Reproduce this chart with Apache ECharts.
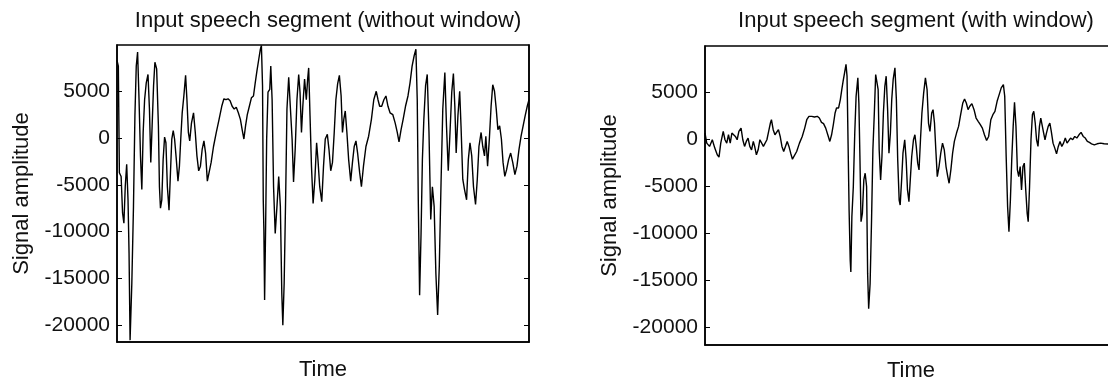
<!DOCTYPE html>
<html><head><meta charset="utf-8">
<script src="https://cdn.jsdelivr.net/npm/echarts@6/dist/echarts.min.js"></script>
<style>html,body{margin:0;padding:0;background:#fff}#c{width:1108px;height:381px}</style>
</head><body><div id="c"></div>
<script>
const titleA = 'Input speech segment (without window)';
const titleB = 'Input speech segment (with window)';
const yName = 'Signal amplitude';
const xName = 'Time';
const yTicks = [-20000, -15000, -10000, -5000, 0, 5000];

// Left panel: sample position / amplitude
const tA = [0,1.3,2.3,4,5.4,6.7,8,9.4,10.7,11.7,12.7,14.4,16,17.4,18.7,20,21.4,22.8,24.1,25.4,26.8,28.4,30.1,31.5,32.8,34.1,35.5,36.8,38.5,40.2,41.2,42.2,43.5,44.8,46.2,47.5,48.9,50.5,51.9,53.2,54.6,55.9,57.6,59.2,60.6,61.9,63.3,64.9,66.6,67.9,69.3,70.6,72.3,74.3,76,77.6,79.3,81,82.7,84.4,86,87.7,89.4,91.4,93.7,96.4,99.1,101.7,103.8,105.8,107.8,109.8,111.8,113.8,115.8,117.8,119.8,121.5,123.2,124.8,126.5,128.5,130.5,132.5,134.2,135.9,137.6,139.2,140.2,141.3,142,142.6,143.3,144.3,145.3,146.6,148.3,149.3,150.6,152,153.6,155.3,157,158.6,160,161,162.3,163.7,165,166.7,168.4,170,171.4,173,174.7,176.4,177.7,179.1,180.4,182.1,183.8,185.1,186.1,187.4,188.8,190.4,192.1,193.8,195.1,196.8,198.8,200.5,202.2,204.2,205.8,207.5,209.2,210.9,212.5,214.2,215.9,217.6,218.9,220.2,221.6,223.2,224.9,226.9,228.6,230.3,232,233.6,235.6,237.3,239.3,241.7,244.3,247,249.3,251.7,253.4,255,257,259.1,261.1,263.1,265.1,267.8,270.1,272.1,273.8,275.8,277.8,280.1,282.5,284.5,286.5,288.5,290.2,291.5,292.5,293.8,295.2,296.5,297.9,299.6,301.2,302.9,304.6,306.2,307.9,309.6,311.3,312.9,314.6,316.3,318.3,319.9,321.6,323.3,325,326.6,328,329.3,331,332.7,334,335.7,337.4,339.4,341.1,342.7,344.4,346.1,348.1,349.8,351.4,353.5,355.1,356.8,358.1,359.8,361.5,363.2,364.8,366.5,368.2,369.8,371.5,373.2,374.8,376.5,378.2,380.2,382.2,384.2,386.3,388.3,390.3,392.3,394.3,396.3,398.3,400];
const vA = [8300,7700,-3700,-4100,-8000,-9100,-5200,-2800,-6600,-12300,-21600,-15500,-7300,2400,7700,9200,4100,-1900,-5500,600,4100,5900,6800,3100,-2600,1300,5600,8100,7400,1300,-5200,-7500,-6600,-2300,100,-500,-5200,-7700,-3700,-100,800,-100,-2300,-4600,-3000,-100,2700,4500,6700,4100,600,-300,1600,2700,600,-1900,-3500,-3000,-1200,-300,-1600,-4600,-4400,-2600,-900,600,2000,3400,4200,4100,4200,4000,3400,3100,3300,2700,2000,900,-100,1300,2500,3400,4300,4500,5900,7200,8400,9500,9900,5600,-6600,-9800,-17300,-9400,-100,4900,5200,7700,4100,-5200,-10200,-7300,-4100,-7300,-16600,-20000,-15500,-6600,3100,6500,6300,-100,-4700,-1200,4100,6800,4900,600,3400,6300,4100,6300,7500,2400,-3000,-7000,-4400,-500,-2300,-5200,-6800,-3000,-100,400,-1200,-3500,-2600,600,4100,5800,6700,4500,600,2000,2900,600,-2300,-4600,-2600,-900,-300,-1600,-3700,-5200,-3000,-900,200,2000,4100,5000,4100,3400,3400,4100,4500,3400,2700,2500,1600,600,-400,900,2000,3400,4500,5900,7700,8800,9500,4100,-6600,-16800,-10200,-2300,2000,5600,6800,600,-8700,-5200,-7300,-14500,-18900,-13700,-4800,3100,7000,1300,-3500,600,4900,6900,3400,-1600,2400,5000,1300,-4400,-5500,-6600,-2300,-500,-1900,-5200,-7100,-4400,-900,600,-900,-1900,200,-3000,-100,3400,5700,5000,3100,900,1300,-100,-2600,-4100,-3400,-2300,-1600,-2600,-3900,-3000,-1200,200,1300,2400,3400,4100];

// Right panel: sample position / amplitude
const tB = [0,1.7,4.4,7.1,9.5,11.9,13.6,15.3,17.7,19.4,21.1,22.8,24.5,26.1,27.8,29.5,31.2,32.9,35,36.7,38.4,40.1,41.8,43.5,45.2,46.9,48.2,49.9,51.6,53.3,55,56.7,58.4,60.1,61.8,63.5,64.5,66.2,67.9,69.6,71.3,73,74.7,76.4,78.1,79.8,81.5,83.2,84.9,86.6,89,91.7,94.4,96.8,98.8,100.9,103.6,106.3,109,111,113.1,115.1,117.2,119.2,121.2,122.9,124.6,126.3,127.7,129.7,131.4,132.8,134.1,135.5,136.9,137.9,138.9,139.9,141,141.6,142.6,144,145.4,146.7,148.4,149.4,150.4,151.5,152.8,154.2,155.5,156.9,157.9,158.9,160.3,161.7,163,164.4,165.7,167.1,168.1,169.1,170.5,171.8,173.2,174.6,175.9,177.3,178.6,180,181.3,182.7,184.4,185.8,187.1,188.5,189.5,190.9,192.2,193.9,195.3,196.6,198,199.3,200.7,202.4,203.8,205.1,206.5,207.8,209.2,210.6,212.3,214,215.6,217,218.4,220.1,221.4,222.8,224.1,225.5,227.2,228.9,230.6,232.3,234,235.7,237,238.7,240.4,242.1,244.2,246.2,248.2,250.3,252,253.7,255.4,257.1,259.1,261.2,263.2,265.2,267.3,269.3,271.3,273.4,275.4,277.5,279.5,281.5,283.6,285.6,287.6,289.7,291,292.4,293.8,295.1,296.5,297.8,299.2,300.5,301.9,303.3,304.6,306,307.3,308.7,310,311.4,312.8,313.8,315.1,316.5,317.9,319.2,320.6,321.9,323.3,324.7,326,327.4,328.8,330.1,331.5,333.2,334.8,336.2,337.9,339.6,341.3,343,344.7,346.4,348.1,349.8,351.5,353.2,354.9,357,359,361,363.1,365.1,367.2,369.2,371.2,373.2,375.3,378,380.7,384.1,387.5,391.6,396,400];
const vB = [640,-430,-780,-70,-960,-1670,-1920,-430,820,-70,-430,460,-430,640,820,280,-70,820,1170,-70,-780,-250,110,-780,-1140,-250,-780,-1670,-1140,-70,110,-780,-960,-70,820,1710,2060,1000,460,640,1000,280,-780,-1320,-780,-250,-780,-1500,-2140,-2030,-1320,-430,280,1170,2060,2420,2420,2350,2420,2240,1780,1640,1170,460,-250,460,1530,2780,3310,3310,4200,5270,6160,7050,7940,6690,-430,-7550,-12900,-14130,-8260,-5060,640,4560,6510,3840,-1850,-8790,-7900,-4340,-3630,-5060,-14310,-18050,-15380,-8620,-1140,2780,6870,6690,5270,-1140,-4340,-1850,2780,5620,6690,3130,-1500,640,4200,6340,7580,4200,-2210,-6480,-7010,-4340,-1500,-70,-2210,-5410,-6660,-4340,-1850,-70,460,-780,-2560,-3280,-70,2780,4910,6510,5270,1710,820,2780,3130,1710,-1140,-3990,-2920,-1500,-430,-1140,-2920,-3990,-4700,-3280,-1500,-250,640,1350,2600,3840,4270,3840,3130,3490,3770,3130,2240,1890,1530,1170,460,-140,280,2060,2600,2950,4020,4730,5450,5800,4560,-1850,-7190,-9860,-6480,-2210,1350,3920,1350,-3280,-3990,-2920,-5410,-2920,-2560,-5410,-7900,-8790,-5060,-70,2600,2950,1710,-70,-780,1350,2240,2060,640,-70,640,1350,1710,820,-430,-960,-1570,-780,-250,-780,-430,110,-430,-250,110,-70,280,110,460,710,280,110,-250,-360,-500,-610,-500,-430,-500,-530,-480,-500];

const FONT = 'Liberation Sans, Arial, sans-serif';
const INK = '#111';
const zip = (t, v) => t.map((x, i) => [x, v[i]]);

function xAx(gi, gap) {
  return { gridIndex: gi, type: 'value', min: 0, max: 400,
    axisLine: { show: true, onZero: false, lineStyle: { color: '#000', width: 1.5 } },
    axisTick: { show: false }, axisLabel: { show: false }, splitLine: { show: false },
    name: xName, nameLocation: 'middle', nameGap: gap,
    nameTextStyle: { fontFamily: FONT, fontSize: 22, color: INK } };
}
function yAx(gi, mn, mx, withName, pos) {
  return { gridIndex: gi, type: 'value', min: mn, max: mx, position: pos,
    axisLine: { show: true, lineStyle: { color: '#000', width: 1.5 } },
    axisTick: { show: true, inside: true, length: 5, customValues: yTicks, lineStyle: { color: '#000', width: 1 } },
    axisLabel: { show: withName, customValues: yTicks, margin: 7, fontFamily: FONT, fontSize: 21, color: INK,
      formatter: v => String(v) },
    splitLine: { show: false },
    name: withName ? yName : '', nameLocation: 'middle', nameGap: 84,
    nameTextStyle: { fontFamily: FONT, fontSize: 22, color: INK } };
}

const chart = echarts.init(document.getElementById('c'), null, { renderer: 'canvas' });
chart.setOption({
  animation: false,
  backgroundColor: '#fff',
  title: [
    { text: titleA, left: 323, top: 5, textAlign: 'center', textStyle: { fontFamily: FONT, fontSize: 22, fontWeight: 'normal', color: INK } },
    { text: titleB, left: 911, top: 5, textAlign: 'center', textStyle: { fontFamily: FONT, fontSize: 22, fontWeight: 'normal', color: INK } }
  ],
  grid: [
    { left: 117, top: 45, width: 412, height: 297, show: true, borderColor: '#000', borderWidth: 1.5, containLabel: false, outerBoundsMode: 'none' },
    { left: 705, top: 46, width: 412, height: 299, show: true, borderColor: '#000', borderWidth: 1.5, containLabel: false, outerBoundsMode: 'none' }
  ],
  xAxis: [xAx(0, 17), xAx(1, 15)],
  yAxis: [
    yAx(0, -21800, 9950, true, 'left'),
    yAx(1, -21900, 9900, true, 'left'),
    yAx(0, -21800, 9950, false, 'right')
  ],
  series: [
    { type: 'line', xAxisIndex: 0, yAxisIndex: 0, data: zip(tA, vA), showSymbol: false, lineStyle: { color: '#000', width: 1.4 } },
    { type: 'line', xAxisIndex: 1, yAxisIndex: 1, data: zip(tB, vB), showSymbol: false, lineStyle: { color: '#000', width: 1.4 } }
  ]
});
</script>
</body></html>
